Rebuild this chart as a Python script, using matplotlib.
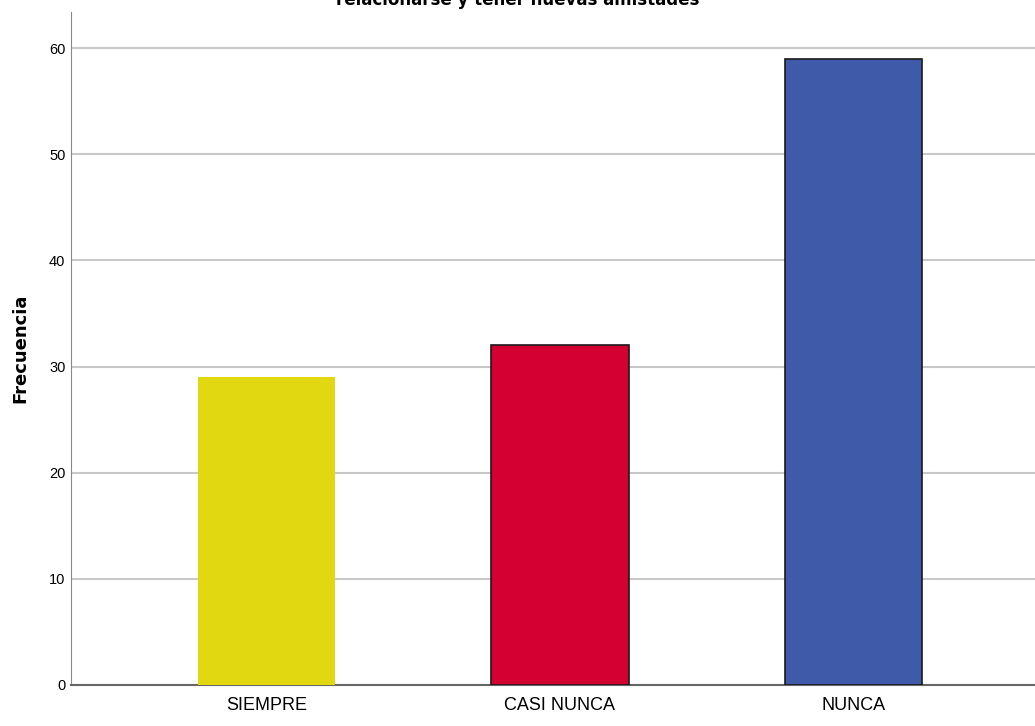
import matplotlib
matplotlib.use("Agg")
import matplotlib.pyplot as plt
from matplotlib import font_manager

categorias = ["SIEMPRE", "CASI NUNCA", "NUNCA"]
frecuencias = [29, 32, 59]
colores = ["#E1D812", "#D50032", "#3E5AA8"]
bordes = ["none", "#1a1a1a", "#1a1a1a"]
titulo = "relacionarse y tener nuevas amistades"

nombres = {f.name for f in font_manager.fontManager.ttflist}
narrow = "Liberation Sans Narrow" if "Liberation Sans Narrow" in nombres else "Liberation Sans"

fig = plt.figure(figsize=(10.35, 7.26), dpi=100)
ax = fig.add_axes([71 / 1035, 1 - 685 / 726, 964 / 1035, 673 / 726])

x = list(range(len(categorias)))
ax.bar(x, frecuencias, width=0.468, color=colores, edgecolor=bordes, linewidth=1.2, zorder=3)

ax.set_xlim(-0.667, 2.62)
ax.set_ylim(0, 63.4)
ax.set_yticks(range(0, 61, 10))
ax.yaxis.grid(True, color="#c8c8c8", linewidth=1.5, zorder=0)
ax.set_axisbelow(True)

for s in ["top", "right"]:
    ax.spines[s].set_visible(False)
ax.spines["left"].set_color("#888888")
ax.spines["bottom"].set_color("#666666")
ax.spines["bottom"].set_linewidth(1.5)

ax.set_xticks(x)
ax.set_xticklabels(categorias, fontsize=13, family=narrow)
ax.tick_params(axis="x", length=0, pad=9)
ax.tick_params(axis="y", length=0, labelsize=10.5, pad=4)
for t in ax.get_yticklabels():
    t.set_family(narrow)

ax.set_ylabel("Frecuencia", fontsize=13, fontweight="bold", labelpad=14)
fig.text(0.50, 1.0, titulo, ha="center", va="center", fontsize=12, fontweight="bold")

fig.savefig("out.png", dpi=100)
